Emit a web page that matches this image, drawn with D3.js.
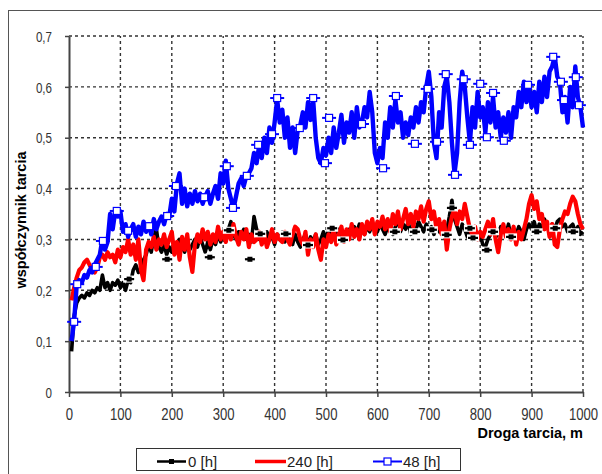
<!DOCTYPE html>
<html><head><meta charset="utf-8">
<script src="https://cdn.jsdelivr.net/npm/d3@7"></script>
<style>body{margin:0;background:#fff} svg{display:block;font-family:"Liberation Sans",Arial,sans-serif}</style>
</head><body><svg id="c" width="602" height="474"></svg>
<script>
// distance of first sample and sampling step (m)
const distStart = 5, distStep = 5;

const series0h = [
0.08,0.15,0.175,0.185,0.19,0.185,0.195,0.19,0.20,0.195,
0.205,0.20,0.23,0.205,0.215,0.20,0.215,0.21,0.22,0.205,
0.215,0.20,0.22,0.215,0.24,0.25,0.235,0.24,0.26,0.27,
0.29,0.275,0.305,0.32,0.285,0.275,0.29,0.27,0.285,0.275,
0.29,0.28,0.30,0.285,0.275,0.295,0.28,0.29,0.30,0.285,
0.305,0.29,0.275,0.295,0.28,0.30,0.29,0.31,0.295,0.315,
0.305,0.32,0.335,0.31,0.30,0.315,0.305,0.32,0.30,0.31,
0.295,0.345,0.32,0.30,0.31,0.295,0.315,0.30,0.305,0.29,
0.31,0.30,0.315,0.295,0.31,0.30,0.29,0.31,0.295,0.285,
0.30,0.31,0.29,0.305,0.295,0.31,0.29,0.30,0.315,0.30,
0.32,0.315,0.30,0.31,0.32,0.30,0.315,0.305,0.32,0.31,
0.325,0.315,0.33,0.32,0.31,0.325,0.315,0.33,0.32,0.315,
0.33,0.32,0.31,0.325,0.32,0.31,0.325,0.34,0.315,0.33,
0.32,0.335,0.31,0.325,0.32,0.335,0.325,0.315,0.33,0.32,
0.325,0.31,0.325,0.315,0.33,0.305,0.32,0.345,0.377,0.34,
0.325,0.31,0.33,0.32,0.305,0.325,0.30,0.315,0.30,0.31,
0.29,0.285,0.30,0.31,0.32,0.305,0.31,0.325,0.32,0.31,
0.33,0.305,0.32,0.31,0.325,0.315,0.30,0.32,0.33,0.32,
0.335,0.315,0.33,0.32,0.34,0.325,0.315,0.33,0.32,0.335,
0.34,0.325,0.33,0.315,0.325,0.33,0.315,0.325,0.31,0.315];

const series240h = [
0.18,0.205,0.225,0.24,0.245,0.255,0.26,0.25,0.24,0.235,
0.245,0.265,0.27,0.26,0.275,0.265,0.27,0.255,0.28,0.265,
0.285,0.275,0.30,0.27,0.29,0.26,0.30,0.24,0.22,0.28,
0.295,0.285,0.305,0.28,0.30,0.29,0.31,0.285,0.30,0.315,
0.27,0.295,0.26,0.305,0.28,0.31,0.265,0.236,0.29,0.31,
0.295,0.32,0.30,0.315,0.29,0.31,0.295,0.325,0.30,0.315,
0.295,0.32,0.30,0.33,0.305,0.29,0.315,0.30,0.32,0.285,
0.31,0.295,0.30,0.315,0.29,0.31,0.285,0.30,0.32,0.295,
0.31,0.30,0.295,0.315,0.30,0.29,0.31,0.325,0.32,0.30,
0.29,0.315,0.27,0.30,0.285,0.31,0.28,0.26,0.30,0.285,
0.31,0.295,0.32,0.29,0.31,0.325,0.295,0.32,0.30,0.33,
0.305,0.32,0.30,0.33,0.31,0.335,0.32,0.34,0.31,0.335,
0.325,0.345,0.32,0.34,0.315,0.35,0.33,0.355,0.32,0.34,
0.36,0.33,0.35,0.325,0.355,0.34,0.365,0.335,0.36,0.375,
0.34,0.355,0.32,0.34,0.31,0.335,0.28,0.32,0.345,0.36,
0.33,0.355,0.34,0.37,0.345,0.32,0.31,0.325,0.30,0.315,
0.305,0.32,0.335,0.31,0.34,0.30,0.275,0.31,0.33,0.305,
0.32,0.30,0.325,0.29,0.315,0.30,0.32,0.34,0.37,0.387,
0.36,0.375,0.34,0.35,0.32,0.335,0.305,0.33,0.29,0.285,
0.32,0.34,0.355,0.35,0.37,0.384,0.375,0.35,0.33,0.32];

const series48h = [
0.10,0.14,0.21,0.22,0.215,0.23,0.225,0.24,0.235,0.25,
0.26,0.27,0.30,0.28,0.295,0.35,0.32,0.355,0.345,0.355,
0.315,0.33,0.305,0.32,0.33,0.305,0.325,0.31,0.335,0.315,
0.33,0.31,0.34,0.32,0.335,0.345,0.33,0.35,0.345,0.38,
0.355,0.41,0.43,0.37,0.40,0.365,0.39,0.37,0.395,0.375,
0.39,0.37,0.385,0.395,0.37,0.39,0.405,0.38,0.43,0.41,
0.455,0.40,0.38,0.36,0.385,0.41,0.42,0.405,0.425,0.43,
0.44,0.47,0.45,0.485,0.46,0.50,0.47,0.52,0.49,0.53,
0.575,0.53,0.555,0.50,0.54,0.48,0.52,0.47,0.515,0.525,
0.55,0.52,0.57,0.535,0.575,0.50,0.46,0.45,0.48,0.465,
0.50,0.47,0.52,0.48,0.51,0.545,0.49,0.53,0.51,0.55,
0.50,0.56,0.52,0.53,0.56,0.54,0.59,0.55,0.47,0.45,
0.48,0.46,0.53,0.50,0.56,0.52,0.575,0.53,0.55,0.50,
0.53,0.505,0.54,0.52,0.56,0.53,0.57,0.55,0.60,0.63,
0.58,0.49,0.46,0.55,0.52,0.60,0.62,0.57,0.49,0.43,
0.47,0.57,0.63,0.60,0.54,0.49,0.56,0.52,0.59,0.54,
0.56,0.51,0.57,0.53,0.58,0.52,0.55,0.50,0.54,0.51,
0.55,0.50,0.56,0.54,0.59,0.56,0.61,0.57,0.60,0.56,
0.59,0.55,0.61,0.57,0.62,0.58,0.63,0.64,0.66,0.62,
0.61,0.55,0.58,0.53,0.60,0.56,0.64,0.58,0.56,0.52];

const markers48hDist = [10,16,52,66,93,115,156,191,208,263,307,319,346,368,395,405,449,475,498,506,570,611,636,673,698,716,733,751,768,780,800,813,825,846,893,942,957,963,986,992];
const markers48hVal = [0.138,0.212,0.246,0.297,0.356,0.317,0.326,0.346,0.405,0.383,0.444,0.362,0.425,0.486,0.507,0.578,0.519,0.578,0.450,0.539,0.527,0.440,0.582,0.488,0.596,0.492,0.625,0.427,0.615,0.486,0.606,0.501,0.588,0.494,0.604,0.659,0.610,0.574,0.619,0.564];

const markers0hDist = [117,191,274,311,352,372,422,465,512,533,634,673,706,735,745,780,786,813,825,860,910,946,981];
const markers0hVal = [0.222,0.261,0.265,0.318,0.261,0.311,0.311,0.289,0.322,0.299,0.315,0.315,0.319,0.309,0.362,0.322,0.303,0.279,0.315,0.305,0.315,0.322,0.315];

const xTicks = [0,100,200,300,400,500,600,700,800,900,1000];
const yTicks = [0,0.1,0.2,0.3,0.4,0.5,0.6,0.7];
const legendLabels = ["0 [h]","240 [h]","48 [h]"];
const xTitle = "Droga tarcia, m";
const yTitle = "współczynnik tarcia";

const svg = d3.select("#c");
const x = d3.scaleLinear().domain([0,1000]).range([69,583]);
const y = d3.scaleLinear().domain([0,0.7]).range([392,36]);

// outer frame
svg.append("rect").attr("x",8.5).attr("y",10.5).attr("width",640).attr("height",500)
  .attr("fill","none").attr("stroke","#555").attr("stroke-width",1);

// grid
const grid = svg.append("g").attr("stroke","#333").attr("stroke-width",1.4).attr("stroke-dasharray","3,3");
xTicks.filter(d=>d>0).forEach(d=>grid.append("line").attr("x1",x(d)).attr("x2",x(d)).attr("y1",y(0)).attr("y2",y(0.7)));
yTicks.filter(d=>d>0).forEach(d=>grid.append("line").attr("x1",x(0)).attr("x2",x(1000)).attr("y1",y(d)).attr("y2",y(d)));

// axes
const fmt = d => d===0 ? "0" : d3.format(".1f")(d).replace(".",",");
const yAx = svg.append("g").attr("transform",`translate(${x(0)},0)`)
  .call(d3.axisLeft(y).tickValues(yTicks).tickFormat(fmt).tickSize(4).tickSizeOuter(0));
yAx.select(".domain").attr("stroke","#444").attr("stroke-width",2);
yAx.selectAll(".tick line").attr("stroke","#444").attr("stroke-width",1.5);
yAx.selectAll(".tick text").attr("font-size",14.5).attr("fill","#333")
  .attr("x",-17/0.8).attr("dy","0.36em").attr("transform","scale(0.8,1)").attr("font-family",null);

const xAx = svg.append("g").attr("transform",`translate(0,${y(0)})`)
  .call(d3.axisBottom(x).tickValues(xTicks).tickFormat(d3.format("d")).tickSize(5).tickSizeOuter(0));
xAx.select(".domain").attr("stroke","#444").attr("stroke-width",2);
xAx.selectAll(".tick line").attr("stroke","#444").attr("stroke-width",1.5);
xAx.selectAll(".tick text").attr("font-size",16).attr("fill","#333")
  .attr("y",28).attr("dy",0).attr("transform","scale(0.82,1)").attr("font-family",null);

// titles
svg.append("text").attr("x",583).attr("y",438).attr("text-anchor","end")
  .attr("font-size",14.5).attr("font-weight","bold").attr("fill","#000").text(xTitle);
svg.append("text").attr("transform","translate(26,220) rotate(-90)").attr("text-anchor","middle")
  .attr("font-size",14.5).attr("font-weight","bold").attr("fill","#000").text(yTitle);

// series lines
const line = d3.line().x((d,i)=>x(distStart+i*distStep)).y(d=>y(d));
const plot = svg.append("g");
plot.append("path").datum(series0h).attr("d",line).attr("fill","none").attr("stroke","#000").attr("stroke-width",3.6).attr("stroke-linejoin","round");
plot.append("path").datum(series240h).attr("d",line).attr("fill","none").attr("stroke","#ff0000").attr("stroke-width",4.2).attr("stroke-linejoin","round");

// black markers
const m0 = plot.append("g").selectAll("g").data(markers0hDist.map((d,i)=>[d,markers0hVal[i]])).join("g")
  .attr("transform",d=>`translate(${x(d[0])},${y(d[1])})`);
m0.append("rect").attr("x",-6).attr("y",-3.5).attr("width",12).attr("height",7).attr("fill","#fff");
m0.append("line").attr("x1",-5).attr("x2",5).attr("stroke","#000").attr("stroke-width",2.2);
m0.append("rect").attr("x",-2.5).attr("y",-2.5).attr("width",5).attr("height",5).attr("fill","#000");

plot.append("path").datum(series48h).attr("d",line).attr("fill","none").attr("stroke","#0000ff").attr("stroke-width",4.4).attr("stroke-linejoin","round");

// blue markers
const m48 = plot.append("g").selectAll("g").data(markers48hDist.map((d,i)=>[d,markers48hVal[i]])).join("g")
  .attr("transform",d=>`translate(${x(d[0])},${y(d[1])})`);
m48.append("line").attr("x1",-7).attr("x2",7).attr("stroke","#0000ff").attr("stroke-width",2);
m48.append("rect").attr("x",-3.5).attr("y",-3.5).attr("width",7).attr("height",7).attr("fill","#fff").attr("stroke","#0000ff").attr("stroke-width",1.2);

// legend
const lg = svg.append("g");
lg.append("rect").attr("x",136.5).attr("y",448.5).attr("width",324).attr("height",22).attr("fill","#fff").attr("stroke","#333").attr("stroke-width",1);
const ly = 461.5;
const items = [
  {x1:157,x2:186,tx:188,color:"#000",w:2.5,marker:"fill"},
  {x1:255,x2:286,tx:287,color:"#ff0000",w:3.5,marker:null},
  {x1:373,x2:402,tx:403,color:"#0000ff",w:2,marker:"open"}
];
items.forEach((it,i)=>{
  lg.append("line").attr("x1",it.x1).attr("x2",it.x2).attr("y1",ly).attr("y2",ly).attr("stroke",it.color).attr("stroke-width",it.w);
  const mx=(it.x1+it.x2)/2;
  if(it.marker==="fill") lg.append("rect").attr("x",mx-2.5).attr("y",ly-2.5).attr("width",5).attr("height",5).attr("fill","#000");
  if(it.marker==="open") lg.append("rect").attr("x",mx-3.5).attr("y",ly-3.5).attr("width",7).attr("height",7).attr("fill","#fff").attr("stroke","#0000ff").attr("stroke-width",1.2);
  lg.append("text").attr("x",it.tx).attr("y",467).attr("font-size",15).attr("fill","#222").text(legendLabels[i]);
});
</script></body></html>
